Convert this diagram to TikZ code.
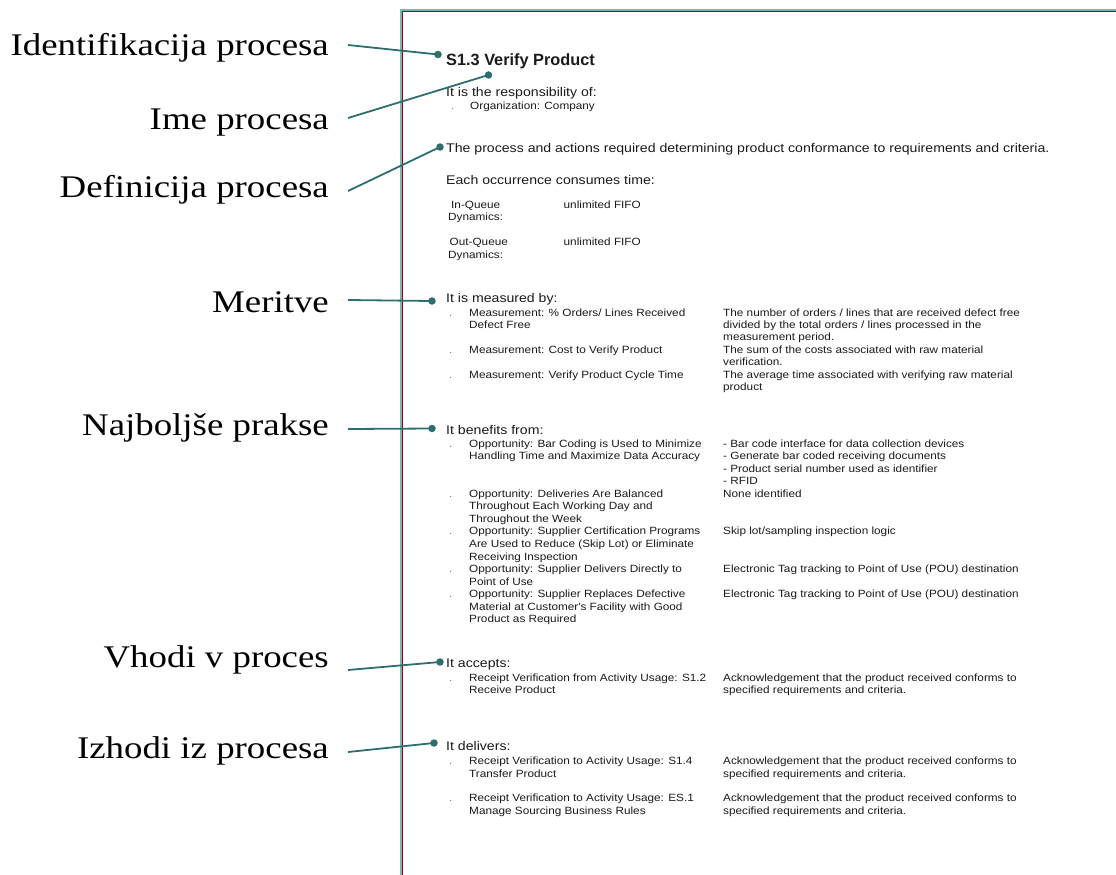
\documentclass[tikz,border=0pt]{standalone}
\usepackage{fontspec}
\newfontfamily\docfont[FakeStretch=1.12]{Liberation Sans}
\newfontfamily\titlefont{Liberation Sans}
\newfontfamily\labelfont[FakeStretch=1.17]{Liberation Serif}

\definecolor{linkc}{HTML}{2F6E6E}
\definecolor{pageteal}{HTML}{7FB3B3}
\definecolor{pagered}{HTML}{A00000}
\definecolor{txt}{HTML}{1A1A1A}

\tikzset{
  lbl/.style={anchor=base east, inner sep=0pt, font=\labelfont\fontsize{31.5}{36}\selectfont},
  ttl/.style={anchor=base west, inner sep=0pt, font=\titlefont\bfseries\fontsize{16.3}{19}\selectfont, text=txt},
  head/.style={anchor=base west, inner sep=0pt, font=\docfont\fontsize{12.6}{15}\selectfont, text=txt},
  small/.style={anchor=base west, inner sep=0pt, font=\docfont\fontsize{10.5}{12.4}\selectfont, text=txt},
  bul/.style={small, text=gray},
  pin/.style={circle, fill=linkc, draw=none, inner sep=0pt, minimum size=7.5pt},
  link/.style={draw=linkc, line width=1.8pt},
}

% one line of the left / right column, and a list bullet
\newcommand\cola[3]{\node[small] (#1) at (469,#2) {#3};}
\newcommand\colb[3]{\node[small] (#1) at (723,#2) {#3};}
\newcommand\bull[2]{\node[bul] (#1) at (449,#2) {.};}

\begin{document}
\begin{tikzpicture}[x=1pt,y=-1pt]
\useasboundingbox (0,0) rectangle (1116,875);

% page edge
\draw[pageteal, line width=1.9pt] (400.7,875) -- (400.7,10.2) -- (1116,10.2);
\draw[pagered, line width=1.3pt] (402.4,875) -- (402.4,11.8) -- (1116,11.8);

% ---- page content ----
\node[ttl] (title) at (446,65.5) {S1.3 Verify Product};

\node[head] (resp) at (446,96) {It is the responsibility of:};
\node[bul] (b0) at (451,109) {.};
\node[small] (org) at (470,109) {Organization: Company};

\node[head] (defn) at (446,152) {The process and actions required determining product conformance to requirements and criteria.};
\node[head] (occ) at (446,184.5) {Each occurrence consumes time:};
\node[small] (inq) at (451,208) {In-Queue};
\node[small] (inqd) at (448,220.5) {Dynamics:};
\node[small] (inqv) at (563.5,208) {unlimited FIFO};
\node[small] (outq) at (449.5,245) {Out-Queue};
\node[small] (outqd) at (448,258) {Dynamics:};
\node[small] (outqv) at (563.5,245) {unlimited FIFO};

% measurements
\node[head] (meas) at (446,302) {It is measured by:};
\bull{mb1}{316}   \cola{ma1}{316}{Measurement: \% Orders/ Lines Received}
                  \colb{mc1}{316}{The number of orders / lines that are received defect free}
                  \cola{ma2}{328.4}{Defect Free}
                  \colb{mc2}{328.4}{divided by the total orders / lines processed in the}
                  \colb{mc3}{340.8}{measurement period.}
\bull{mb2}{353.2} \cola{ma3}{353.2}{Measurement: Cost to Verify Product}
                  \colb{mc4}{353.2}{The sum of the costs associated with raw material}
                  \colb{mc5}{365.6}{verification.}
\bull{mb3}{378}   \cola{ma4}{378}{Measurement: Verify Product Cycle Time}
                  \colb{mc6}{378}{The average time associated with verifying raw material}
                  \colb{mc7}{390.4}{product}

% best practices
\node[head] (bene) at (446,434) {It benefits from:};
\bull{bb1}{447}   \cola{ba1}{447}{Opportunity: Bar Coding is Used to Minimize}
                  \colb{bc1}{447}{- Bar code interface for data collection devices}
                  \cola{ba2}{459.6}{Handling Time and Maximize Data Accuracy}
                  \colb{bc2}{459.6}{- Generate bar coded receiving documents}
                  \colb{bc3}{472.1}{- Product serial number used as identifier}
                  \colb{bc4}{484.7}{- RFID}
\bull{bb2}{497.2} \cola{ba3}{497.2}{Opportunity: Deliveries Are Balanced}
                  \colb{bc5}{497.2}{None identified}
                  \cola{ba4}{509.8}{Throughout Each Working Day and}
                  \cola{ba5}{522.3}{Throughout the Week}
\bull{bb3}{534.9} \cola{ba6}{534.9}{Opportunity: Supplier Certification Programs}
                  \colb{bc6}{534.9}{Skip lot/sampling inspection logic}
                  \cola{ba7}{547.4}{Are Used to Reduce (Skip Lot) or Eliminate}
                  \cola{ba8}{560}{Receiving Inspection}
\bull{bb4}{572.5} \cola{ba9}{572.5}{Opportunity: Supplier Delivers Directly to}
                  \colb{bc7}{572.5}{Electronic Tag tracking to Point of Use (POU) destination}
                  \cola{ba10}{585.1}{Point of Use}
\bull{bb5}{597.6} \cola{ba11}{597.6}{Opportunity: Supplier Replaces Defective}
                  \colb{bc8}{597.6}{Electronic Tag tracking to Point of Use (POU) destination}
                  \cola{ba12}{610.2}{Material at Customer's Facility with Good}
                  \cola{ba13}{622.7}{Product as Required}

% inputs
\node[head] (acc) at (446,667.5) {It accepts:};
\bull{ab1}{681}   \cola{aa1}{681}{Receipt Verification from Activity Usage: S1.2}
                  \colb{ac1}{681}{Acknowledgement that the product received conforms to}
                  \cola{aa2}{693.5}{Receive Product}
                  \colb{ac2}{693.5}{specified requirements and criteria.}

% outputs
\node[head] (del) at (446,750) {It delivers:};
\bull{db1}{764}   \cola{da1}{764}{Receipt Verification to Activity Usage: S1.4}
                  \colb{dc1}{764}{Acknowledgement that the product received conforms to}
                  \cola{da2}{777}{Transfer Product}
                  \colb{dc2}{777}{specified requirements and criteria.}
\bull{db2}{801}   \cola{da3}{801}{Receipt Verification to Activity Usage: ES.1}
                  \colb{dc3}{801}{Acknowledgement that the product received conforms to}
                  \cola{da4}{814}{Manage Sourcing Business Rules}
                  \colb{dc4}{814}{specified requirements and criteria.}

% ---- callout labels ----
\node[lbl] (L1) at (329,56)  {Identifikacija procesa};
\node[lbl] (L2) at (329,129) {Ime procesa};
\node[lbl] (L3) at (329,197) {Definicija procesa};
\node[lbl] (L4) at (329,312) {Meritve};
\node[lbl] (L5) at (329,435) {Najboljše prakse};
\node[lbl] (L6) at (329,667) {Vhodi v proces};
\node[lbl] (L7) at (329,758) {Izhodi iz procesa};

\coordinate (s1) at (348,45);
\coordinate (s2) at (348,118);
\coordinate (s3) at (348,191);
\coordinate (s4) at (348,300);
\coordinate (s5) at (348,429);
\coordinate (s6) at (348,670);
\coordinate (s7) at (348,752);

\node[pin] (p1) at (438,54.5) {};
\node[pin] (p2) at (488.5,75) {};
\node[pin] (p3) at (440,147) {};
\node[pin] (p4) at (432,301) {};
\node[pin] (p5) at (432,428.5) {};
\node[pin] (p6) at (440,662) {};
\node[pin] (p7) at (434,743) {};

\foreach \i in {1,...,7}
  \draw[link] (s\i) -- (p\i.center);
\end{tikzpicture}
\end{document}
